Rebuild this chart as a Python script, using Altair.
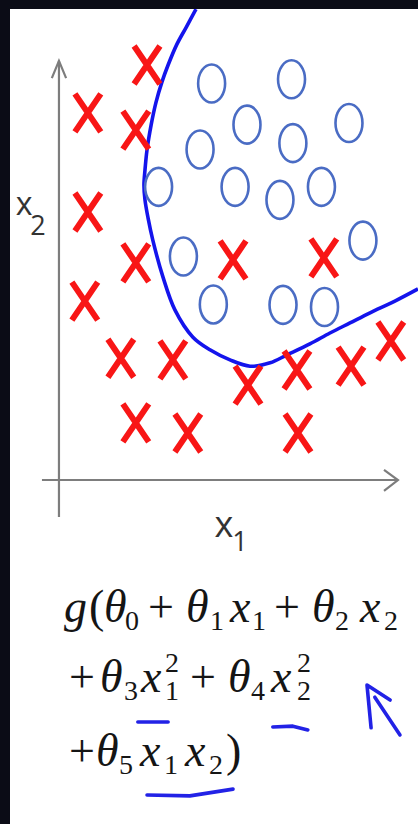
import altair as alt
import pandas as pd

# Training examples, class y = 0 (red crosses): feature x1, feature x2
cross_x1 = [2.59, 0.85, 2.26, 0.85, 2.26, 5.12, 7.79, 0.76, 1.82, 3.35, 5.56, 7.00, 8.59, 9.76, 2.26, 3.79, 7.03]
cross_x2 = [9.88, 8.74, 8.33, 6.38, 5.17, 5.24, 5.29, 4.26, 2.90, 2.86, 2.26, 2.62, 2.71, 3.31, 1.36, 1.12, 1.12]

# Training examples, class y = 1 (blue circles)
circle_x1 = [4.49, 6.84, 5.53, 4.15, 6.88, 8.53, 2.93, 5.18, 6.50, 7.72, 3.66, 8.94, 4.54, 6.59, 7.81]
circle_x2 = [9.44, 9.54, 8.46, 7.87, 8.02, 8.50, 6.98, 6.98, 6.67, 6.98, 5.32, 5.70, 4.18, 4.17, 4.12]

# Non-linear decision boundary, traced in order
boundary_x1 = [4.03, 3.75, 3.46, 3.21, 3.03, 2.85, 2.71, 2.59, 2.53, 2.50, 2.53, 2.62, 2.76,
               3.06, 3.41, 3.94, 4.44, 5.03, 5.62, 6.21, 6.71, 7.38, 7.97, 8.56, 9.15, 9.88, 10.56]
boundary_x2 = [11.21, 10.79, 10.36, 9.88, 9.48, 8.98, 8.45, 7.86, 7.38, 7.02, 6.67, 6.24, 5.71,
               4.83, 4.05, 3.40, 3.10, 2.86, 2.71, 2.79, 2.98, 3.24, 3.50, 3.74, 3.98, 4.26, 4.55]

# Hand-drawn axes (shaft + arrow head), one stroke per id
axis_id = [0, 0, 1, 1, 1, 2, 2, 3, 3, 3]
axis_x1 = [0.0, 0.0, -0.21, 0.0, 0.21, -0.5, 9.97, 9.56, 9.97, 9.56]
axis_x2 = [-0.88, 9.98, 9.57, 9.98, 9.57, 0.0, 0.0, 0.24, 0.0, -0.26]

# Blue pen marks under the formula, one stroke per id
pen_id = [0, 0, 1, 1, 1, 2, 2, 2, 3, 3, 3, 4, 4]
pen_x1 = [2.32, 3.21, 6.29, 6.88, 7.32, 2.59, 3.85, 5.12, 9.18, 9.06, 9.74, 9.29, 10.03]
pen_x2 = [-5.76, -5.76, -5.88, -5.86, -5.95, -7.50, -7.52, -7.36, -5.90, -4.88, -5.24, -5.17, -6.07]

# Hypothesis g(θ0 + θ1x1 + θ2x2 + θ3x1² + θ4x2² + θ5x1x2), typeset piece by piece:
# (line, glyphs, left edge in px, role)
formula_pieces = [
    (0, "g", 64, "var"), (0, "(", 89, "op"), (0, "θ", 104, "var"), (0, "0", 125, "sub"),
    (0, "+", 148, "op"), (0, "θ", 186, "var"), (0, "1", 210, "sub"), (0, "x", 230, "var"),
    (0, "1", 252, "sub"), (0, "+", 274, "op"), (0, "θ", 312, "var"), (0, "2", 335, "sub"),
    (0, "x", 360, "var"), (0, "2", 384, "sub"),
    (1, "+", 69, "op"), (1, "θ", 100, "var"), (1, "3", 124, "sub"), (1, "x", 141, "var"),
    (1, "2", 165, "sup"), (1, "1", 165, "sub"), (1, "+", 190, "op"), (1, "θ", 228, "var"),
    (1, "4", 251, "sub"), (1, "x", 271, "var"), (1, "2", 297, "sup"), (1, "2", 297, "sub"),
    (2, "+", 69, "op"), (2, "θ", 96, "var"), (2, "5", 119, "sub"), (2, "x", 140, "var"),
    (2, "1", 164, "sub"), (2, "x", 185, "var"), (2, "2", 209, "sub"), (2, ")", 226, "op"),
]

PAD_L, PAD_T = 10, 9
line_baseline = [622, 692, 766]
role_shift = {"var": 0, "op": 0, "sub": 8, "sup": -20}

xs = alt.Scale(domain=[-1.44, 10.56], nice=False, zero=False)
ys = alt.Scale(domain=[-8.19, 11.214], nice=False, zero=False)

crosses = pd.DataFrame({"x1": cross_x1, "x2": cross_x2})
circles = pd.DataFrame({"x1": circle_x1, "x2": circle_x2})
boundary = pd.DataFrame({"x1": boundary_x1, "x2": boundary_x2, "i": range(len(boundary_x1))})
axes = pd.DataFrame({"s": axis_id, "x1": axis_x1, "x2": axis_x2, "i": range(len(axis_id))})
pen = pd.DataFrame({"s": pen_id, "x1": pen_x1, "x2": pen_x2, "i": range(len(pen_id))})

pieces = pd.DataFrame(formula_pieces, columns=["line", "t", "left", "role"])
pieces["px"] = pieces["left"] - PAD_L
pieces["py"] = [line_baseline[l] - PAD_T + role_shift[r] for l, r in zip(pieces["line"], pieces["role"])]

X = alt.X("x1:Q", scale=xs, axis=None)
Y = alt.Y("x2:Q", scale=ys, axis=None)

CROSS = "M -0.68 -1 L 0.68 1 M 0.68 -1 L -0.68 1"
ELLIPSE = ("M 0.71 0 C 0.71 0.552 0.392 1 0 1 C -0.392 1 -0.71 0.552 -0.71 0 "
           "C -0.71 -0.552 -0.392 -1 0 -1 C 0.392 -1 0.71 -0.552 0.71 0 Z")

axis_layer = alt.Chart(axes).mark_line(color="#7d7d7d", strokeWidth=2.2).encode(
    x=X, y=Y, detail="s:N", order="i:Q")

cross_layer = alt.Chart(crosses).mark_point(
    shape=CROSS, filled=False, stroke="#f81616", strokeWidth=6, size=1444, opacity=1
).encode(x=X, y=Y)

circle_layer = alt.Chart(circles).mark_point(
    shape=ELLIPSE, filled=False, stroke="#4a6cc4", strokeWidth=2.6, size=1444, opacity=1
).encode(x=X, y=Y)

boundary_layer = alt.Chart(boundary).mark_line(
    color="#1414ec", strokeWidth=3.6, clip=True, interpolate="catmull-rom"
).encode(x=X, y=Y, order="i:Q")

pen_layer = alt.Chart(pen).mark_line(
    color="#2222e6", strokeWidth=3.6, strokeCap="round", strokeJoin="round"
).encode(x=X, y=Y, detail="s:N", order="i:Q")


def label(text, px, py, size):
    return alt.Chart(pd.DataFrame({"t": [text]})).mark_text(
        font="Open Sans", fontSize=size, color="#333333", align="center", baseline="alphabetic"
    ).encode(x=alt.value(px), y=alt.value(py), text="t:N")


labels = [
    label("x", 214, 528, 36),
    label("1", 230, 542, 27),
    label("x", 14, 206, 32),
    label("2", 28, 226, 27),
]

PX = alt.X("px:Q", scale=None, axis=None)
PY = alt.Y("py:Q", scale=None, axis=None)


def formula_layer(roles, size, style):
    return alt.Chart(pieces).transform_filter(
        alt.FieldOneOfPredicate(field="role", oneOf=roles)
    ).mark_text(
        font="Liberation Serif", fontSize=size, fontStyle=style, color="#151515",
        align="left", baseline="alphabetic"
    ).encode(x=PX, y=PY, text="t:N")


formula = [
    formula_layer(["var"], 46, "italic"),
    formula_layer(["op"], 46, "normal"),
    formula_layer(["sub", "sup"], 28, "normal"),
]

chart = alt.layer(
    axis_layer, boundary_layer, circle_layer, cross_layer, pen_layer,
    *labels, *formula,
).properties(
    width=408, height=815,
    padding={"left": PAD_L, "top": PAD_T, "right": 0, "bottom": 0},
    background="#0b0c16",
    autosize=alt.AutoSizeParams(type="none"),
).resolve_scale(x="independent", y="independent").configure_view(fill="white", stroke=None)

chart.save("out.html", embed_options={"renderer": "svg", "actions": False})
